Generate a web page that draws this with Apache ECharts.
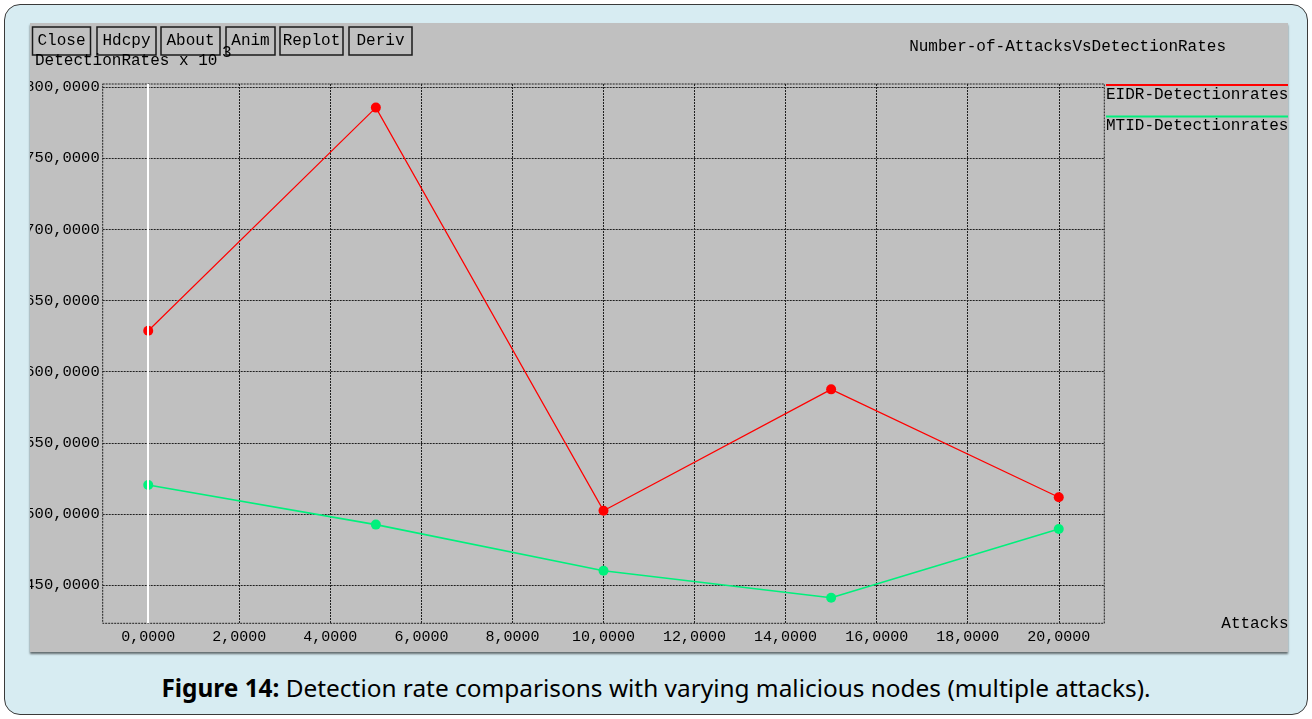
<!DOCTYPE html>
<html>
<head>
<meta charset="utf-8">
<script src="https://cdn.jsdelivr.net/npm/echarts@6/dist/echarts.min.js"></script>
<style>
  html, body { margin: 0; padding: 0; background: #ffffff; width: 1312px; height: 719px; overflow: hidden; }
  #frame { position: absolute; left: 4px; top: 4px; width: 1304px; height: 711px; box-sizing: border-box;
           border: 1.5px solid #3a3a3a; border-radius: 16px; background: #d7ecf2; }
  #chart { position: absolute; left: 30px; top: 23px; width: 1258px; height: 629px;
           box-shadow: 0 2px 2px rgba(0,0,0,0.55); }
  #cap { position: absolute; left: 0; width: 1312px; top: 671px; text-align: center;
         font-family: "Liberation Sans Narrow", "Noto Sans", sans-serif; font-size: 24.4px; color: #000; }
</style>
</head>
<body>
<div id="frame"></div>
<div id="chart"></div>
<div id="cap"><b>Figure 14:</b> Detection rate comparisons with varying malicious nodes (multiple attacks).</div>
<script>
// ---- data ----
const attacks = [0, 5, 10, 15, 20];
const eidrRates = [628.8, 785.7, 502.3, 587.6, 511.7];
const mtidRates = [520.3, 492.5, 460.0, 441.1, 489.4];
const xTicks = [0, 2, 4, 6, 8, 10, 12, 14, 16, 18, 20];
const yTicks = [450, 500, 550, 600, 650, 700, 750, 800];
const seriesNames = ['EIDR-Detectionrates', 'MTID-Detectionrates'];
const buttonLabels = ['Close', 'Hdcpy', 'About', 'Anim', 'Replot', 'Deriv'];

const MONO = '"Liberation Mono", "DejaVu Sans Mono", monospace';
const fmt = v => Number(v).toFixed(4).replace('.', ',');
const RED = '#ff0000', GREEN = '#00f07c';
const GRIDLINE = { color: '#202020', width: 1, type: [2, 1] };

const chart = echarts.init(document.getElementById('chart'), null, { renderer: 'canvas' });

// button geometry (decoration, in chart pixels)
const btnX = [2.5, 67, 131, 196, 250, 319];
const btnW = [58, 59, 59, 49, 63, 63];
const buttons = buttonLabels.map((t, i) => ({
  type: 'group', z: 100,
  children: [
    { type: 'rect', shape: { x: btnX[i], y: 4, width: btnW[i], height: 28 },
      style: { fill: '#c0c0c0', stroke: '#1a1a1a', lineWidth: 1.5 } },
    { type: 'text', style: { x: btnX[i] + btnW[i] / 2, y: 18, text: t, fill: '#000',
      font: '16px ' + MONO, align: 'center', verticalAlign: 'middle' } }
  ]
}));

const option = {
  animation: false,
  backgroundColor: '#c0c0c0',
  title: {
    text: 'Number-of-AttacksVsDetectionRates',
    right: 62, top: 16, padding: 0,
    textStyle: { fontFamily: MONO, fontSize: 16, fontWeight: 'normal', color: '#000' }
  },
  legend: {
    orient: 'vertical', left: 1066, top: 51, padding: 5,
    icon: 'none', itemWidth: 0, itemHeight: 14, itemGap: 8,
    data: seriesNames,
    formatter: name => (name === seriesNames[0] ? '{r| }' : '{g| }') + '\n{t|' + name + '}',
    textStyle: {
      color: '#000',
      rich: {
        r: { backgroundColor: RED, width: 200, height: 2, lineHeight: 2 },
        g: { backgroundColor: GREEN, width: 200, height: 2, lineHeight: 2 },
        t: { fontFamily: MONO, fontSize: 16, lineHeight: 17, color: '#000' }
      }
    }
  },
  graphic: [
    { type: 'text', z: 10, style: { x: 5, y: 38, text: 'DetectionRates x 10', fill: '#000',
      font: '16px ' + MONO, verticalAlign: 'middle' } },
    { type: 'text', z: 10, style: { x: 192, y: 30, text: '3', fill: '#000',
      font: '16px ' + MONO, verticalAlign: 'middle' } }
  ].concat(buttons),
  grid: {
    left: 72.7, right: 183.7, top: 61, bottom: 28.7,
    outerBoundsMode: 'none', containLabel: false,
    show: true, backgroundColor: 'transparent',
    borderColor: '#202020', borderWidth: 1, borderType: [2, 1]
  },
  xAxis: {
    type: 'value', min: -1, max: 21,
    name: 'Attacks', nameLocation: 'end', nameGap: 117,
    nameTextStyle: { fontFamily: MONO, fontSize: 16, color: '#000', verticalAlign: 'middle', padding: [10, 0, 0, 0] },
    axisLine: { show: false },
    axisTick: { show: false, customValues: xTicks },
    axisLabel: { customValues: xTicks, formatter: fmt, margin: 6,
      fontFamily: MONO, fontSize: 15, color: '#000' },
    splitLine: { show: true, lineStyle: GRIDLINE }
  },
  yAxis: {
    type: 'value', min: 423.1, max: 802.3,
    axisLine: { show: false },
    axisTick: { show: false, customValues: yTicks },
    axisLabel: { customValues: yTicks, formatter: fmt, margin: 3,
      fontFamily: MONO, fontSize: 15.5, color: '#000' },
    splitLine: { show: true, lineStyle: GRIDLINE }
  },
  series: [
    {
      name: seriesNames[0], type: 'line',
      data: attacks.map((a, i) => [a, eidrRates[i]]),
      symbol: 'circle', symbolSize: 10,
      lineStyle: { color: RED, width: 1.2 },
      itemStyle: { color: RED },
      markLine: {
        silent: true, symbol: 'none', label: { show: false },
        lineStyle: { color: '#ffffff', width: 2, type: 'solid' },
        data: [{ xAxis: 0 }]
      },
      z: 3
    },
    {
      name: seriesNames[1], type: 'line',
      data: attacks.map((a, i) => [a, mtidRates[i]]),
      symbol: 'circle', symbolSize: 10,
      lineStyle: { color: GREEN, width: 1.6 },
      itemStyle: { color: GREEN },
      z: 3
    }
  ]
};
chart.setOption(option);
</script>
</body>
</html>
